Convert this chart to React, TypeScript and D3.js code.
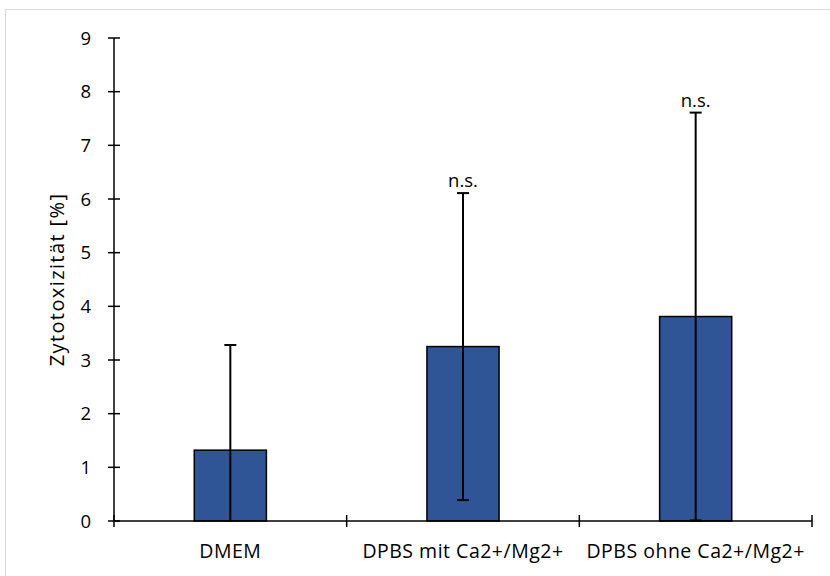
import React from "react";
import { scaleBand, scaleLinear } from "d3";

const categories = ["DMEM", "DPBS mit Ca2+/Mg2+", "DPBS ohne Ca2+/Mg2+"];
const means = [1.32, 3.25, 3.81];
const errors = [1.96, 2.86, 3.8];
const labels = ["", "n.s.", "n.s."];
const yTicks = [0, 1, 2, 3, 4, 5, 6, 7, 8, 9];

const W = 830;
const H = 576;
const margin = { left: 114, right: 18, top: 38, bottom: 55 };
const font = "'Open Sans', Lato, sans-serif";

const App = () => {
  const x = scaleBand<string>()
    .domain(categories)
    .range([margin.left, W - margin.right]);
  const y = scaleLinear()
    .domain([0, 9])
    .range([H - margin.bottom, margin.top]);

  const barW = x.bandwidth() * 0.31;
  const y0 = y(0);
  const xEdges = [margin.left, ...categories.map((c) => (x(c) as number) + x.bandwidth())];

  return (
    <svg
      width={W}
      height={H}
      style={{ position: "absolute", left: 0, top: 0, background: "#fff" }}
      fontFamily={font}
    >
      <rect x={5.5} y={9.5} width={W} height={H} fill="none" stroke="#d9d9d9" />

      {/* bars */}
      {categories.map((c, i) => {
        const cx = (x(c) as number) + x.bandwidth() / 2;
        return (
          <rect
            key={c}
            x={cx - barW / 2}
            y={y(means[i])}
            width={barW}
            height={y0 - y(means[i])}
            fill="#2f5597"
            stroke="#000"
            strokeWidth={1.5}
          />
        );
      })}

      {/* y axis */}
      <line x1={margin.left} x2={margin.left} y1={y(9)} y2={y0} stroke="#000" strokeWidth={1.5} />
      {yTicks.map((t) => (
        <g key={t}>
          <line x1={margin.left - 6} x2={margin.left + 6} y1={y(t)} y2={y(t)} stroke="#000" strokeWidth={1.5} />
          <text x={margin.left - 23} y={y(t)} dy="0.36em" textAnchor="end" fontSize={18.5} fill="#000">
            {t}
          </text>
        </g>
      ))}
      <text
        transform={`translate(57,${(y(0) + y(9)) / 2}) rotate(-90)`}
        textAnchor="middle"
        dy="0.36em"
        fontSize={20}
        letterSpacing={1.4}
        fill="#000"
      >
        Zytotoxizität [%]
      </text>

      {/* x axis */}
      <line x1={margin.left} x2={W - margin.right} y1={y0} y2={y0} stroke="#000" strokeWidth={1.5} />
      {xEdges.map((ex, i) => (
        <line key={i} x1={ex} x2={ex} y1={y0 - 6} y2={y0 + 6} stroke="#000" strokeWidth={1.5} />
      ))}
      {categories.map((c) => (
        <text
          key={c}
          x={(x(c) as number) + x.bandwidth() / 2}
          y={y0 + 37}
          textAnchor="middle"
          fontSize={19.5}
          letterSpacing={0.5}
          fill="#000"
        >
          {c}
        </text>
      ))}

      {/* error bars */}
      {categories.map((c, i) => {
        const cx = (x(c) as number) + x.bandwidth() / 2;
        const hi = means[i] + errors[i];
        const loRaw = means[i] - errors[i];
        const lo = Math.max(0, loRaw);
        return (
          <g key={c} stroke="#000" strokeWidth={2}>
            <line x1={cx} x2={cx} y1={y(hi)} y2={y(lo)} />
            <line x1={cx - 6} x2={cx + 6} y1={y(hi)} y2={y(hi)} />
            {loRaw >= -0.05 && <line x1={cx - 6} x2={cx + 6} y1={y(lo)} y2={y(lo)} />}
          </g>
        );
      })}

      {/* significance labels */}
      {categories.map((c, i) =>
        labels[i] ? (
          <text
            key={c}
            x={(x(c) as number) + x.bandwidth() / 2}
            y={y(means[i] + errors[i]) - 6}
            textAnchor="middle"
            fontSize={18.5}
            fill="#000"
          >
            {labels[i]}
          </text>
        ) : null
      )}
    </svg>
  );
};

export default App;
